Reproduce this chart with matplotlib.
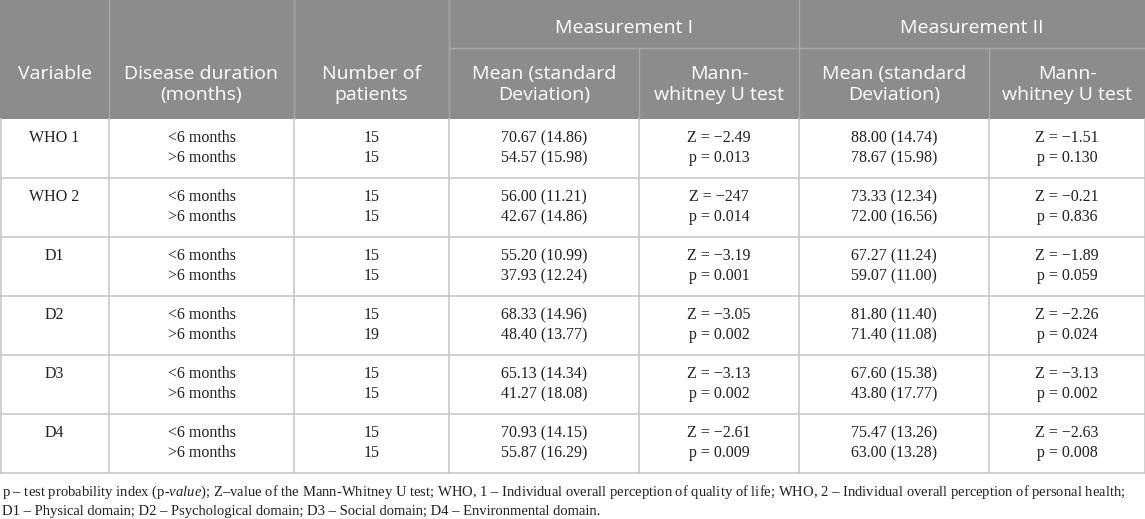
import matplotlib.pyplot as plt
from matplotlib.patches import Rectangle

plt.rcParams['mathtext.fontset'] = 'custom'
plt.rcParams['mathtext.rm'] = 'Liberation Serif'
plt.rcParams['mathtext.it'] = 'Liberation Serif:italic'

# table data
variables = ["WHO 1", "WHO 2", "D1", "D2", "D3", "D4"]
durations = ["<6 months", ">6 months"]
n_lt = [15, 15, 15, 15, 15, 15]
n_gt = [15, 15, 15, 19, 15, 15]

mean1_lt = [70.67, 56.00, 55.20, 68.33, 65.13, 70.93]
sd1_lt = [14.86, 11.21, 10.99, 14.96, 14.34, 14.15]
mean1_gt = [54.57, 42.67, 37.93, 48.40, 41.27, 55.87]
sd1_gt = [15.98, 14.86, 12.24, 13.77, 18.08, 16.29]
z1 = ["\u22122.49", "\u2212247", "\u22123.19", "\u22123.05", "\u22123.13", "\u22122.61"]
p1 = ["0.013", "0.014", "0.001", "0.002", "0.002", "0.009"]

mean2_lt = [88.00, 73.33, 67.27, 81.80, 67.60, 75.47]
sd2_lt = [14.74, 12.34, 11.24, 11.40, 15.38, 13.26]
mean2_gt = [78.67, 72.00, 59.07, 71.40, 43.80, 63.00]
sd2_gt = [15.98, 16.56, 11.00, 11.08, 17.77, 13.28]
z2 = ["\u22121.51", "\u22120.21", "\u22121.89", "\u22122.26", "\u22123.13", "\u22122.63"]
p2 = ["0.130", "0.836", "0.059", "0.024", "0.002", "0.008"]

group_labels = ["Measurement I", "Measurement II"]
col_labels = ["Variable", "Disease duration\n(months)", "Number of\npatients",
              "Mean (standard\nDeviation)", "Mann-\nwhitney U test",
              "Mean (standard\nDeviation)", "Mann-\nwhitney U test"]

footnote1 = ("p \u2013 test probability index (p-$\\it{value}$); Z\u2013value of the Mann-Whitney U test; "
             "WHO, 1 \u2013 Individual overall perception of quality of life; "
             "WHO, 2 \u2013 Individual overall perception of personal health;")
footnote2 = ("D1 \u2013 Physical domain; D2 \u2013 Psychological domain; "
             "D3 \u2013 Social domain; D4 \u2013 Environmental domain.")

# layout (pixels)
W, H = 1145, 519
col_x = [0, 109, 294, 449, 639, 799, 989, 1145]
head_top, group_line, head_bot = 0, 48, 119
row_h = 59
n_rows = len(variables)
table_bot = head_bot + row_h * n_rows

head_col = "#8c8c8c"
head_line = "#a8a8a8"
body_line = "#c8c8c8"
txt_col = "#231f20"
serif = "Liberation Serif"
sans = "Open Sans"

fig = plt.figure(figsize=(W / 100, H / 100), dpi=100)
ax = fig.add_axes([0, 0, 1, 1])
ax.set_xlim(0, W)
ax.set_ylim(H, 0)
ax.axis("off")

# header
ax.add_patch(Rectangle((0, head_top), W, head_bot - head_top, color=head_col, lw=0))
ax.plot([col_x[3], W], [group_line, group_line], color=head_line, lw=1)
for i, x in enumerate(col_x[1:-1], start=1):
    y0 = group_line if i in (4, 6) else head_top
    ax.plot([x, x], [y0, head_bot], color=head_line, lw=1)

for g, lab in enumerate(group_labels):
    xa, xb = col_x[3 + 2 * g], col_x[5 + 2 * g]
    ax.text((xa + xb) / 2, 28, lab, ha="center", va="center", color="white",
            fontsize=14, family=sans)

for i, lab in enumerate(col_labels):
    xc = (col_x[i] + col_x[i + 1]) / 2
    for k, ln in enumerate(lab.split("\n")):
        ax.text(xc, 74 + 21 * k, ln, ha="center", va="center", color="white",
                fontsize=14, family=sans)

# body
for r in range(n_rows):
    top = head_bot + r * row_h
    y1, y2 = top + 19, top + 39
    cells = [
        (variables[r], ""),
        (durations[0], durations[1]),
        (str(n_lt[r]), str(n_gt[r])),
        (f"{mean1_lt[r]:.2f} ({sd1_lt[r]:.2f})", f"{mean1_gt[r]:.2f} ({sd1_gt[r]:.2f})"),
        (f"Z = {z1[r]}", f"p = {p1[r]}"),
        (f"{mean2_lt[r]:.2f} ({sd2_lt[r]:.2f})", f"{mean2_gt[r]:.2f} ({sd2_gt[r]:.2f})"),
        (f"Z = {z2[r]}", f"p = {p2[r]}"),
    ]
    for c, (a, b) in enumerate(cells):
        xc = (col_x[c] + col_x[c + 1]) / 2
        ax.text(xc, y1, a, ha="center", va="center", fontsize=11.5, family=serif, color=txt_col)
        if b:
            ax.text(xc, y2, b, ha="center", va="center", fontsize=11.5, family=serif, color=txt_col)
    ax.plot([0, W], [top + row_h, top + row_h], color=body_line, lw=1.2)

for x in col_x[1:-1]:
    ax.plot([x, x], [head_bot, table_bot], color=body_line, lw=1.2)
ax.plot([0.5, 0.5], [head_bot, table_bot], color=body_line, lw=1.2)
ax.plot([W - 0.5, W - 0.5], [head_bot, table_bot], color=body_line, lw=1.2)

# footnotes
ax.text(2, 492, footnote1, ha="left", va="center", fontsize=10.5, family=serif, color=txt_col)
ax.text(2, 512, footnote2, ha="left", va="center", fontsize=10.5, family=serif, color=txt_col)

fig.savefig("out.png", dpi=100)
